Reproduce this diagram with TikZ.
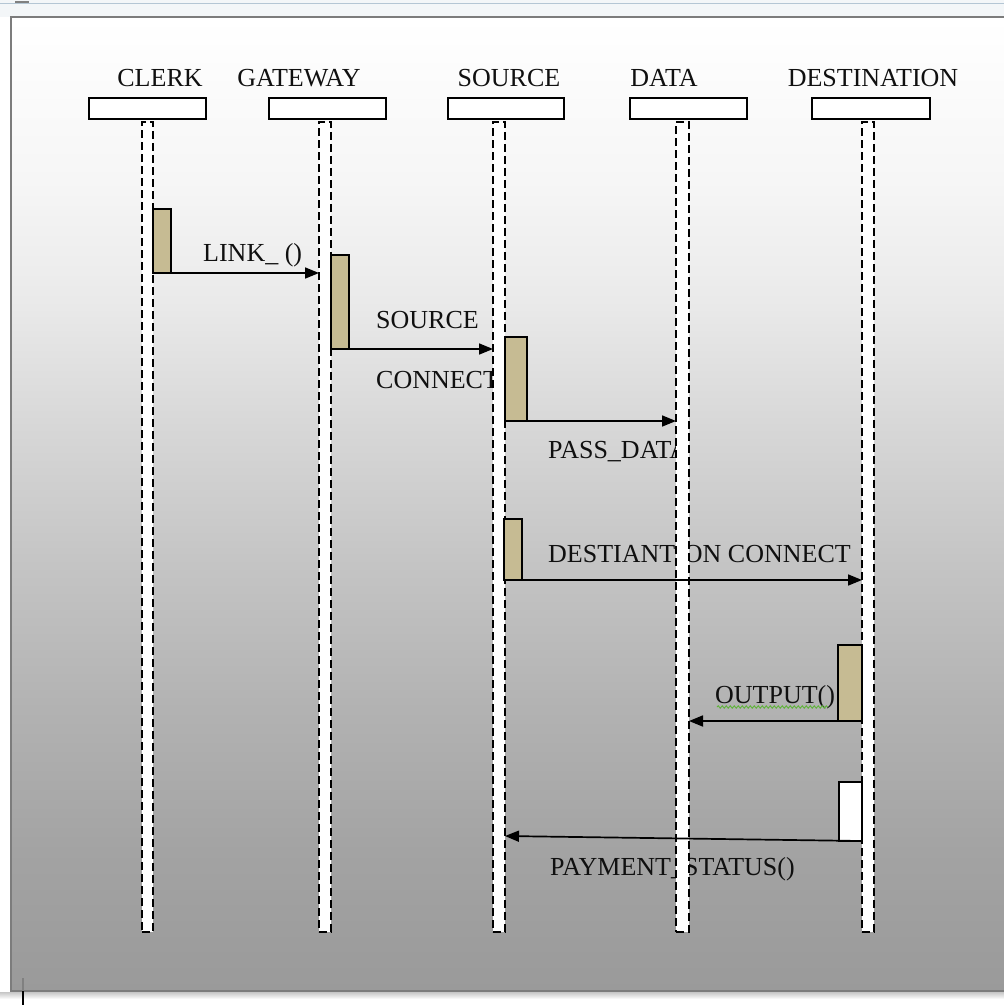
\documentclass[tikz,border=0pt]{standalone}
\usepackage{fontspec}
\setmainfont{Liberation Serif}
\usetikzlibrary{arrows.meta,decorations.pathmorphing}

\definecolor{ink}{HTML}{101010}
\definecolor{barfill}{HTML}{C6BB93}
\definecolor{frameline}{HTML}{7C7C7C}
\definecolor{topstrip}{HTML}{F3F6F8}
\definecolor{topline}{HTML}{B4C6D4}
\definecolor{squig}{HTML}{5FB33A}
\definecolor{gA}{HTML}{FFFFFF}
\definecolor{gB}{HTML}{F6F6F6}
\definecolor{gC}{HTML}{EAEAEA}
\definecolor{gD}{HTML}{D8D8D8}
\definecolor{gE}{HTML}{C6C6C6}
\definecolor{gF}{HTML}{B3B3B3}
\definecolor{gG}{HTML}{A3A3A3}
\definecolor{gH}{HTML}{9A9A9A}

\begin{document}
\begin{tikzpicture}[x=1pt,y=-1pt,
  lbl/.style={font=\fontsize{26}{30}\selectfont, text=ink, inner sep=0pt, anchor=base west},
  headlbl/.style={lbl, anchor=base},
  headbox/.style={draw=black, line width=1.8pt, fill=white, inner sep=0pt,
    minimum width=117pt, minimum height=21pt, anchor=north west},
  lifeline/.style={draw=black, fill=white, line width=1.7pt, dash pattern=on 8pt off 4pt,
    inner sep=0pt, outer sep=0pt, anchor=north west, minimum height=810pt},
  actbar/.style={draw=black, line width=1.7pt, fill=barfill, inner sep=0pt, outer sep=0pt,
    anchor=north west},
  msg/.style={draw=black, line width=1.7pt, -{Triangle[length=14pt,width=11pt]}}
]
\useasboundingbox (0,0) rectangle (1004,1005);
\clip (0,0) rectangle (1004,1005);

% page surroundings
\fill[white] (0,0) rectangle (1004,1005);
\fill[topstrip] (0,0) rectangle (1004,17);
\draw[topline, line width=1.2pt] (0,3.5) -- (1004,3.5);
\draw[gray, line width=1.5pt] (15,2) -- (29,2);

% graded background of the frame
\shade[top color=gA, bottom color=gB] (11,17) rectangle (1010,181);
\shade[top color=gB, bottom color=gC] (11,180) rectangle (1010,301);
\shade[top color=gC, bottom color=gD] (11,300) rectangle (1010,421);
\shade[top color=gD, bottom color=gE] (11,420) rectangle (1010,551);
\shade[top color=gE, bottom color=gF] (11,550) rectangle (1010,701);
\shade[top color=gF, bottom color=gG] (11,700) rectangle (1010,851);
\shade[top color=gG, bottom color=gH] (11,850) rectangle (1010,991);
\shade[top color=gray!45, bottom color=white] (0,992) rectangle (1004,999);
\draw[frameline, line width=2pt] (11,17) rectangle (1010,991);

% object heads
\node[headlbl] (tclerk) at (160,86) {CLERK};
\node[headlbl] (tgate) at (299,86) {GATEWAY};
\node[headlbl] (tsrc) at (509,86) {SOURCE};
\node[headlbl] (tdata) at (664,86) {DATA};
\node[headlbl] (tdest) at (873,86) {DESTINATION};

\node[headbox] (hclerk) at (88,97) {};
\node[headbox] (hgate) at (268,97) {};
\node[headbox, minimum width=116pt] (hsrc) at (447,97) {};
\node[headbox] (hdata) at (629,97) {};
\node[headbox, minimum width=118pt] (hdest) at (811,97) {};

% message labels (drawn before the lifelines, which pass over them)
\node[lbl] (llink) at (203,261) {LINK\_ ()};
\node[lbl] (lsrc1) at (376,328) {SOURCE};
\node[lbl] (lsrc2) at (376,388) {CONNECT};
\node[lbl] (lpass) at (548,458) {PASS\_DATA};
\node[lbl] (ldest) at (548,562) {DESTIANTION CONNECT};
\node[lbl] (lout) at (715,703) {OUTPUT()};
\node[lbl] (lpay) at (550,875) {PAYMENT\_STATUS()};
\draw[squig, line width=0.9pt, decorate,
  decoration={snake, amplitude=1.2pt, segment length=4pt}] (717,707) -- (828,707);

% lifelines
\node[lifeline, minimum width=11pt] (lclerk) at (142,122) {};
\node[lifeline, minimum width=12pt] (lgate) at (319,122) {};
\node[lifeline, minimum width=12pt] (lsrc) at (493,122) {};
\node[lifeline, minimum width=13pt] (ldata) at (676,122) {};
\node[lifeline, minimum width=12pt] (ldest) at (862,122) {};

% activation bars
\node[actbar, minimum width=18pt, minimum height=64pt] (bclerk) at (153,209) {};
\node[actbar, minimum width=18pt, minimum height=94pt] (bgate) at (331,255) {};
\node[actbar, minimum width=22pt, minimum height=84pt] (bsrcA) at (505,337) {};
\node[actbar, minimum width=18pt, minimum height=61pt] (bsrcB) at (504,519) {};
\node[actbar, minimum width=24pt, minimum height=76pt] (bdestA) at (838,645) {};
\node[actbar, fill=white, minimum width=23pt, minimum height=59pt] (bdestB) at (839,782) {};

% messages
\draw[msg] (bclerk.south east) -- (bclerk.south east -| lgate.west);
\draw[msg] (bgate.south east) -- (bgate.south east -| lsrc.west);
\draw[msg] (bsrcA.south east) -- (bsrcA.south east -| ldata.west);
\draw[msg] (bsrcB.south east) -- (bsrcB.south east -| ldest.west);
\draw[msg] (bdestA.south east) -- (bdestA.south east -| ldata.east);
\coordinate (payend) at (505,836);
\draw[msg] (bdestB.south east) -- (payend);

% text cursor below the frame
\draw[gray, line width=2pt] (23,978) -- (23,991);
\draw[black, line width=2pt] (23,991) -- (23,1005);
\end{tikzpicture}
\end{document}
